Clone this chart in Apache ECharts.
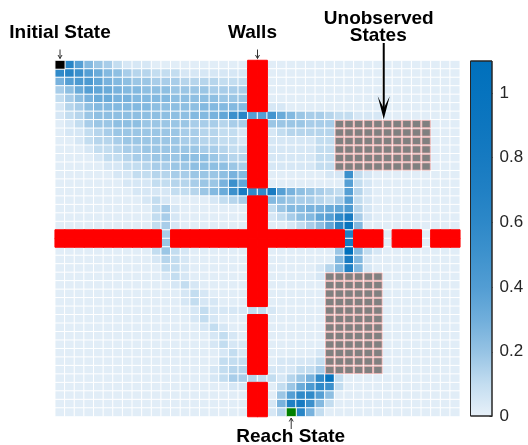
<!DOCTYPE html>
<html>
<head>
<meta charset="utf-8">
<script src="https://cdn.jsdelivr.net/npm/echarts@6/dist/echarts.min.js"></script>
<style>
  html, body { margin: 0; padding: 0; background: #fff; }
  #chart { width: 528px; height: 445px; }
</style>
</head>
<body>
<div id="chart"></div>
<script>
// Occupancy map of a 42 x 42 grid world.
// One character per cell, row 0 at the top:
//   '#' wall, 'x' unobserved state, 'S' initial state, 'G' reach state,
//   any other character is a visitation level whose value is listed in SHADE.
const SHADE = {
  '0': 0.00, '1': 0.02, '2': 0.05, '3': 0.10, '4': 0.13, '5': 0.16, '6': 0.19,
  '7': 0.22, '8': 0.25, '9': 0.28, 'a': 0.32, 'b': 0.35, 'c': 0.39, 'd': 0.43,
  'e': 0.47, 'f': 0.52, 'g': 0.58, 'h': 0.64, 'i': 0.70, 'j': 0.78, 'k': 0.88,
  'l': 0.98, 'm': 1.10
};

const gridRows = [
  "Shc86532221111111111" + "##" + "11111111111111111111",
  "ghfca875443332222222" + "##" + "11111111111111111111",
  "9cddb987665554444333" + "##" + "11111111111111111111",
  "57acba98877766665555" + "##" + "11111111111111111111",
  "3579aa99888877777666" + "##" + "11111111111111111111",
  "24578888887777788888" + "##" + "22111111111111111111",
  "23467777777777889bfh" + "cc" + "ea865543322211111111",
  "12356677766666555455" + "##" + "6666555xxxxxxxxxx111",
  "12234566666665544332" + "##" + "2344444xxxxxxxxxx111",
  "11234456666665544332" + "##" + "2222233xxxxxxxxxx111",
  "11123345566666655433" + "##" + "2222233xxxxxxxxxx111",
  "11112334556667776544" + "##" + "2222233xxxxxxxxxx111",
  "11111223345566777765" + "##" + "2222233xxxxxxxxxx111",
  "11111122334455666798" + "##" + "11111122f32111111111",
  "111111122233445669fb" + "##" + "11111111c32111111111",
  "11111111222233468afj" + "gg" + "jc976543c42111111111",
  "11111111123211112345" + "##" + "87655435c32111111111",
  "11111111113521111111" + "##" + "368899abd42111111111",
  "11111111113521111111" + "##" + "23578bcgj52111111111",
  "11111111113521111111" + "##" + "112357bhl81111111111",
  "###########5##################i###1###1###",
  "###########6##################j###1###1###",
  "11111111113632111111" + "##" + "11111116m83211111111",
  "11111111112432111111" + "##" + "11111118j82111111111",
  "11111111111332111111" + "##" + "11111248i82111111111",
  "11111111111232111111" + "##" + "111112xxxxxx11111111",
  "11111111111123211111" + "##" + "111111xxxxxx11111111",
  "11111111111112321111" + "##" + "111111xxxxxx11111111",
  "11111111111112322111" + "##" + "111111xxxxxx11111111",
  "11111111111111232222" + "33" + "211111xxxxxx11111111",
  "11111111111111232111" + "##" + "111111xxxxxx11111111",
  "11111111111111123211" + "##" + "111111xxxxxx11111111",
  "11111111111111112321" + "##" + "111111xxxxxx11111111",
  "11111111111111112322" + "##" + "111111xxxxxx11111111",
  "11111111111111111232" + "##" + "111112xxxxxx11111111",
  "11111111111111111333" + "##" + "122223xxxxxx11111111",
  "11111111111111112344" + "##" + "222335xxxxxx11111111",
  "11111111111111112355" + "43" + "32469gl3111111111111",
  "11111111111111111122" + "##" + "136adgf3111111111111",
  "11111111111111111111" + "##" + "16cggc71111111111111",
  "11111111111111111111" + "##" + "29ijf831111111111111",
  "11111111111111111111" + "##" + "24Gh9311111111111111"
];

// Colour ramp sampled evenly from 0 to 1.1
const RAMP = ['#e8f1f9', '#c3ddf0', '#96c3e4', '#70aedb', '#529dd3', '#3e92cd',
              '#2d88c8', '#2080c4', '#167ac1', '#0d76bf', '#0673be', '#0070bc'];
const SCALE_MIN = 0, SCALE_MAX = 1.1;
const COLORBAR_TICK = 0.2;

const nRows = gridRows.length;
const nCols = gridRows[0].length;
const colCats = Array.from({ length: nCols }, (_, i) => String(i));
const rowCats = Array.from({ length: nRows }, (_, i) => String(i));

const probData = [], wallData = [], hiddenData = [], startData = [], goalData = [];
gridRows.forEach((line, r) => {
  for (let c = 0; c < line.length; c++) {
    const ch = line[c];
    if (ch === '#') wallData.push([c, r, 1]);
    else if (ch === 'x') hiddenData.push([c, r, 1]);
    else if (ch === 'S') startData.push([c, r, 1]);
    else if (ch === 'G') goalData.push([c, r, 1]);
    else probData.push([c, r, SHADE[ch]]);
  }
});

const FONT = '"Liberation Sans", Arial, Helvetica, sans-serif';
const chart = echarts.init(document.getElementById('chart'), null, { renderer: 'canvas' });

const cellBase = {
  type: 'heatmap', xAxisIndex: 0, yAxisIndex: 0,
  silent: true, emphasis: { disabled: true }, progressive: 0
};

const option = {
  animation: false,
  backgroundColor: '#ffffff',
  grid: [
    { left: 55.2, top: 60.5, width: 404.6, height: 356 },
    { left: 470, top: 60.5, width: 22.5, height: 356 }
  ],
  xAxis: [
    { type: 'category', gridIndex: 0, data: colCats, show: false },
    { type: 'category', gridIndex: 1, data: ['scale'], show: false }
  ],
  yAxis: [
    { type: 'category', gridIndex: 0, data: rowCats, inverse: true, show: false },
    {
      type: 'value', gridIndex: 1, position: 'right',
      min: SCALE_MIN, max: SCALE_MAX, interval: COLORBAR_TICK,
      axisLine: { show: false },
      splitLine: { show: false },
      axisTick: { show: true, inside: true, length: 3, lineStyle: { color: '#262626', width: 1 } },
      axisLabel: { show: true, showMaxLabel: false, margin: 7, fontSize: 17, color: '#262626', fontFamily: FONT }
    }
  ],
  visualMap: {
    type: 'continuous', show: false, seriesIndex: 0,
    min: SCALE_MIN, max: SCALE_MAX, inRange: { color: RAMP }
  },
  series: [
    Object.assign({}, cellBase, {
      name: 'Visitation', data: probData,
      itemStyle: { borderColor: '#ffffff', borderWidth: 1 }
    }),
    {
      type: 'custom', name: 'Unobserved States', xAxisIndex: 0, yAxisIndex: 0, silent: true,
      data: hiddenData,
      renderItem: function (params, api) {
        const p = api.coord([api.value(0), api.value(1)]);
        const s = api.size([1, 1]);
        const inset = 0.6;
        return {
          type: 'rect',
          shape: { x: p[0] - s[0] / 2 + inset, y: p[1] - s[1] / 2 + inset, width: s[0] - 2 * inset, height: s[1] - 2 * inset },
          style: { fill: '#808080', stroke: '#f4b4b4', lineWidth: 0.8 }
        };
      }
    },
    Object.assign({}, cellBase, {
      name: 'Walls', data: wallData,
      itemStyle: { color: '#ff0000', borderColor: '#ff0000', borderWidth: 1 }
    }),
    Object.assign({}, cellBase, {
      name: 'Initial State', data: startData,
      itemStyle: { color: '#000000', borderColor: '#ffffff', borderWidth: 1 }
    }),
    Object.assign({}, cellBase, {
      name: 'Reach State', data: goalData,
      itemStyle: { color: '#008000', borderColor: '#ffffff', borderWidth: 1 }
    }),
    {
      type: 'bar', name: 'scale', xAxisIndex: 1, yAxisIndex: 1, silent: true,
      data: [SCALE_MAX], barWidth: '100%',
      itemStyle: {
        color: new echarts.graphic.LinearGradient(0, 1, 0, 0,
          RAMP.map((c, i) => ({ offset: i / (RAMP.length - 1), color: c }))),
        borderColor: '#262626', borderWidth: 1
      }
    }
  ]
};
chart.setOption(option);

// Annotations placed from the cells they point at
const cellPx = (c, r) => chart.convertToPixel({ xAxisIndex: 0, yAxisIndex: 0 }, [c, r]);
const c00 = cellPx(0, 0), c10 = cellPx(1, 0), c01 = cellPx(0, 1);
const halfW = (c10[0] - c00[0]) / 2, halfH = (c01[1] - c00[1]) / 2;
const gridTop = c00[1] - halfH;
const gridBottom = cellPx(0, nRows - 1)[1] + halfH;

const startPos = startData[0], goalPos = goalData[0];
const startX = cellPx(startPos[0], startPos[1])[0];
const wallX = (cellPx(20, 0)[0] + cellPx(21, 0)[0]) / 2;
const goalX = cellPx(goalPos[0], goalPos[1])[0];
const hiddenTop = cellPx(34, 7)[1] - halfH;
const hiddenX = cellPx(34, 7)[0] - halfW + 1;

function label(text, x, y) {
  return {
    type: 'text', x: x, y: y, silent: true, z: 100,
    style: {
      text: text, font: 'bold 19px ' + FONT, fill: '#000',
      align: 'center', verticalAlign: 'middle',
      textAlign: 'center', textVerticalAlign: 'middle'
    }
  };
}
function smallArrow(x, yFrom, yTo) {
  const dir = yTo > yFrom ? 1 : -1;
  return [
    { type: 'line', silent: true, z: 100, shape: { x1: x, y1: yFrom, x2: x, y2: yTo }, style: { stroke: '#333', lineWidth: 1 } },
    { type: 'polyline', silent: true, z: 100,
      shape: { points: [[x - 2, yTo - dir * 3.5], [x, yTo], [x + 2, yTo - dir * 3.5]] },
      style: { stroke: '#333', lineWidth: 1, fill: null } }
  ];
}

const tip = hiddenTop - 0.5;
const graphics = [
  label('Initial State', startX, 32.5),
  label('Walls', wallX - 5, 32.5),
  label('Unobserved', hiddenX - 5, 18.5),
  label('States', hiddenX - 5.5, 36),
  label('Reach State', goalX - 0.5, 436.5),
  ...smallArrow(startX, gridTop - 11, gridTop - 2),
  ...smallArrow(wallX, gridTop - 11, gridTop - 2),
  ...smallArrow(goalX, gridBottom + 12.5, gridBottom + 1.5),
  { type: 'line', silent: true, z: 100, shape: { x1: hiddenX, y1: 43, x2: hiddenX, y2: tip - 8 }, style: { stroke: '#000', lineWidth: 2 } },
  { type: 'polygon', silent: true, z: 100,
    shape: { points: [[hiddenX, tip], [hiddenX - 6, tip - 23], [hiddenX, tip - 11], [hiddenX + 6, tip - 23]] },
    style: { fill: '#000' } }
];
chart.setOption({ graphic: graphics });
</script>
</body>
</html>
